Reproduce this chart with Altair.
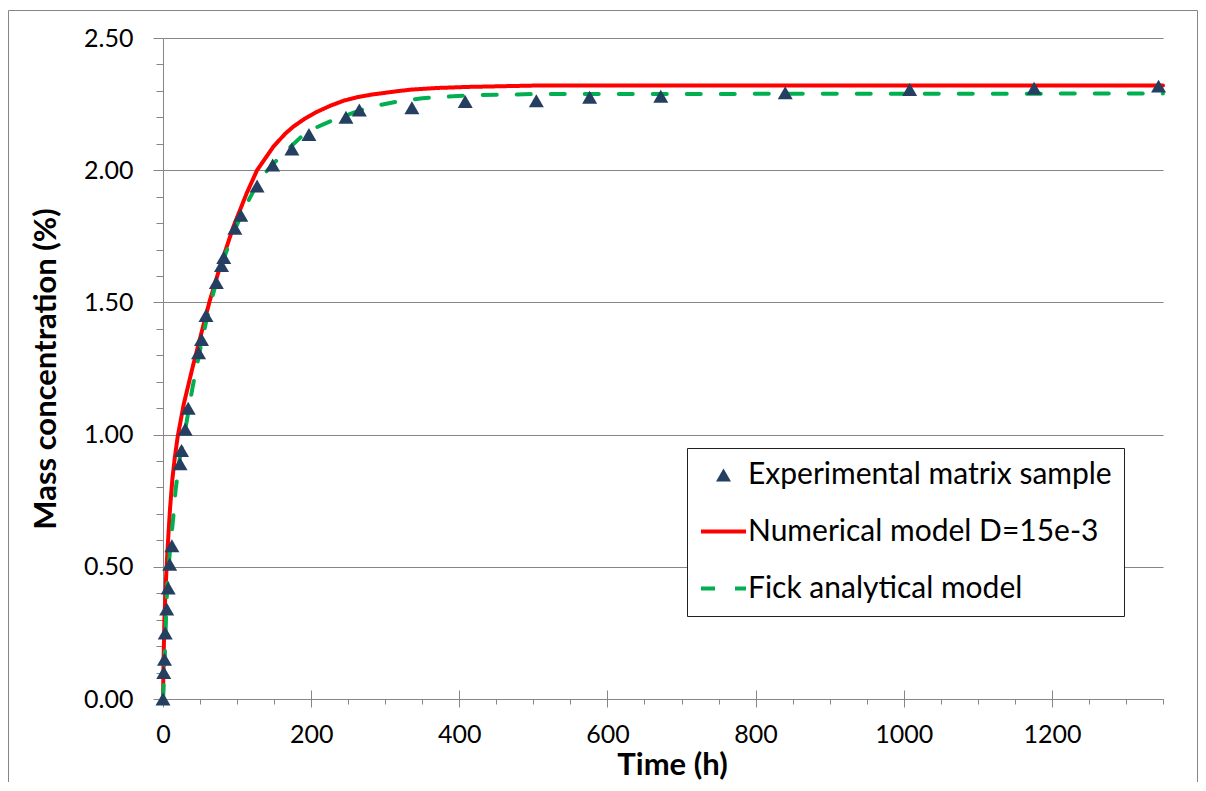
import altair as alt
import pandas as pd

# ---------------- data ----------------
SERIES = ["Experimental matrix sample", "Numerical model D=15e-3", "Fick analytical model"]
COLORS = ["#243F60", "#FF0000", "#00B050"]

exp_t = [0, 1, 2, 3, 5, 7, 9, 12, 23, 25, 30, 34, 48, 52, 58, 72, 79, 82, 97, 105,
         127, 148, 174, 197, 247, 265, 336, 408, 504, 576, 672, 840, 1008, 1176, 1344]
exp_c = [0.00, 0.10, 0.15, 0.25, 0.34, 0.42, 0.51, 0.58, 0.89, 0.94, 1.02, 1.10, 1.31, 1.36,
         1.45, 1.575, 1.64, 1.67, 1.78, 1.83, 1.94, 2.02, 2.08, 2.135, 2.20, 2.228, 2.236,
         2.26, 2.263, 2.276, 2.28, 2.293, 2.305, 2.31, 2.318]

num_t = [0, 1, 2, 4, 6, 9.5, 12.6, 16, 20, 28, 40, 51, 63, 77, 95, 113, 127, 149, 165, 176,
         192, 208, 226, 244, 264, 284, 320, 336, 370, 412, 500, 1350]
num_c = [0.00, 0.18, 0.31, 0.45, 0.56, 0.72, 0.83, 0.915, 0.995, 1.115, 1.255, 1.375, 1.505,
         1.635, 1.786, 1.913, 2.00, 2.089, 2.138, 2.165, 2.196, 2.221, 2.244, 2.263, 2.277,
         2.287, 2.300, 2.305, 2.311, 2.315, 2.32, 2.32]

fick_t = [0, 2, 4, 6, 10, 14, 17, 22, 27, 32, 40, 50, 60, 75, 93, 108, 131, 158, 194,
          230, 280, 316, 350, 412, 500, 1350]
fick_c = [0.00, 0.12, 0.30, 0.45, 0.58, 0.69, 0.79, 0.90, 0.98, 1.05, 1.18, 1.32, 1.45,
          1.61, 1.75, 1.845, 1.969, 2.051, 2.146, 2.19, 2.24, 2.259, 2.272, 2.283, 2.288, 2.29]

X_DOMAIN = [0, 1350]
Y_DOMAIN = [0, 2.5]
x_major = [0, 200, 400, 600, 800, 1000, 1200]
x_minor = [v for v in range(0, 1351, 50) if v % 200 != 0]
y_major = [0, 0.5, 1.0, 1.5, 2.0, 2.5]
y_minor = [round(i * 0.1, 1) for i in range(26) if i % 5 != 0]

exp_df = pd.DataFrame({"t": exp_t, "c": exp_c, "series": SERIES[0]})
lines_df = pd.concat([
    pd.DataFrame({"t": num_t, "c": num_c, "series": SERIES[1]}),
    pd.DataFrame({"t": fick_t, "c": fick_c, "series": SERIES[2]}),
], ignore_index=True)

GRAY = "#868686"
FONT = "Lato"

xs = alt.Scale(domain=X_DOMAIN, nice=False, zero=False)
ys = alt.Scale(domain=Y_DOMAIN, nice=False)

LEG = alt.Legend(
    title=None, orient="none", legendX=524, legendY=410,
    padding=12, rowPadding=17, labelOffset=0,
    labelFont=FONT, labelFontSize=30, labelColor="black", labelLimit=600,
    strokeColor="#202020", fillColor="white", cornerRadius=0,
)

x_main = alt.X("t:Q", scale=xs, axis=alt.Axis(
    values=x_major, format="d", tickSize=8, grid=False, labelPadding=15,
    labelFlush=False, labelOverlap=False, title="Time (h)", titleX=509, titleY=51,
    titleBaseline="top", titleAlign="center"))
y_main = alt.Y("c:Q", scale=ys, axis=alt.Axis(
    values=y_major, format=".2f", tickSize=10, grid=True, labelPadding=20,
    labelOverlap=False, title="Mass concentration (%)", titleX=-101, titleY=330.5,
    titleAngle=-90, titleBaseline="bottom", titleAlign="center"))

lines = alt.Chart(lines_df).mark_line(strokeCap="round", strokeJoin="round", clip=False).encode(
    x=x_main, y=y_main,
    color=alt.Color("series:N", scale=alt.Scale(domain=SERIES, range=COLORS), legend=LEG),
    strokeDash=alt.StrokeDash("series:N", scale=alt.Scale(
        domain=SERIES, range=[[1, 0], [1, 0], [14, 20]]), legend=LEG),
    strokeWidth=alt.StrokeWidth("series:N", scale=alt.Scale(
        type="ordinal", domain=SERIES, range=[0, 4, 4]), legend=LEG),
    order=alt.Order("t:Q"),
)

points = alt.Chart(exp_df).mark_point(filled=True, opacity=1, clip=False).encode(
    x=x_main, y=y_main,
    color=alt.Color("series:N", scale=alt.Scale(domain=SERIES, range=COLORS), legend=LEG),
    shape=alt.Shape("series:N", scale=alt.Scale(
        domain=SERIES, range=["triangle-up", "stroke", "stroke"]), legend=LEG),
    size=alt.Size("series:N", scale=alt.Scale(
        type="ordinal", domain=SERIES, range=[225, 2025, 2025]), legend=LEG),
)

main = alt.layer(lines, points)

tick_df = pd.DataFrame({"t": [0], "c": [0]})
minor = alt.Chart(tick_df).mark_point(opacity=0).encode(
    x=alt.X("t:Q", scale=xs, axis=alt.Axis(
        values=x_minor, labels=False, domain=False, grid=False, tickSize=5,
        title=None, orient="bottom")),
    y=alt.Y("c:Q", scale=ys, axis=alt.Axis(
        values=y_minor, labels=False, domain=False, grid=False, tickSize=7,
        title=None, orient="left")),
)

upper = alt.Chart(tick_df).mark_point(opacity=0).encode(
    x=alt.X("t:Q", scale=xs, axis=alt.Axis(
        values=x_major, labels=False, domain=False, grid=False, tickSize=9,
        offset=-9, title=None, orient="bottom")),
    y=alt.Y("c:Q", scale=ys, axis=None),
)

frame = alt.Chart(pd.DataFrame({"k": [0]})).mark_rect(
    fill="transparent", stroke=GRAY, strokeWidth=1).encode(
    x=alt.value(-154.5), x2=alt.value(1034.5), y=alt.value(-27.5), y2=alt.value(760))

chart = alt.layer(frame, main, minor, upper).resolve_scale(
    x="independent", y="independent"
).properties(
    width=1000, height=661,
    autosize=alt.AutoSizeParams(type="none"),
    padding={"left": 155, "top": 30, "right": 35, "bottom": 83},
).configure_view(stroke=None).configure_axis(
    labelFont=FONT, labelFontSize=25, labelColor="black",
    titleFont=FONT, titleFontSize=31, titleFontWeight="bold", titleColor="black",
    domainColor=GRAY, tickColor=GRAY, gridColor=GRAY, domainWidth=1, tickWidth=1,
    gridWidth=1,
).configure_legend(symbolFillColor="transparent")

chart.save("out.html", embed_options={"renderer": "svg", "actions": False})
